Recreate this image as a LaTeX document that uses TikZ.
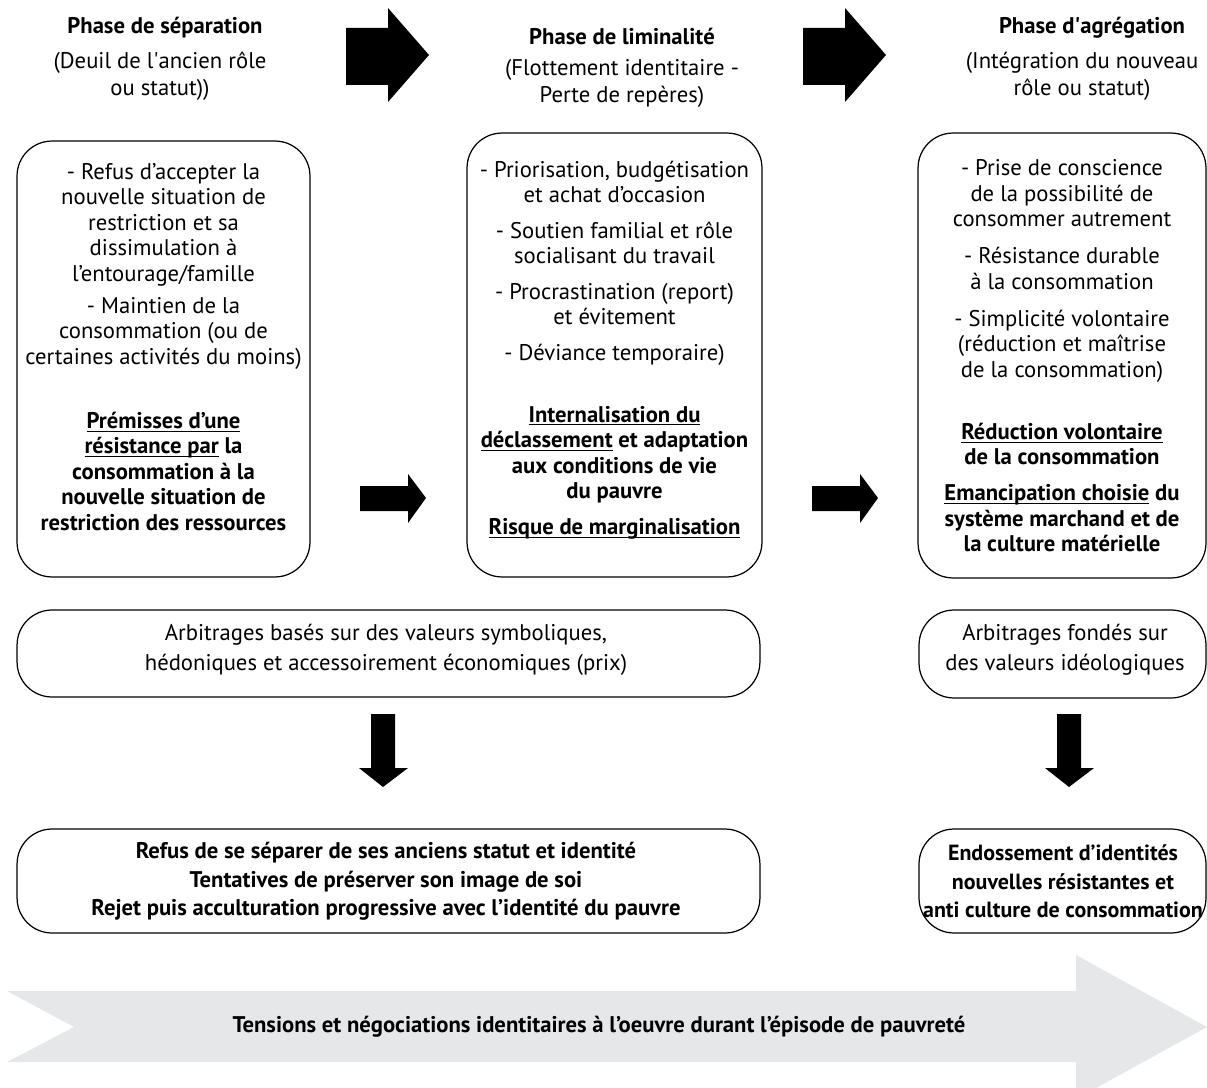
\documentclass[tikz,border=0pt]{standalone}
\usepackage{fontspec}
\setmainfont{PT Sans}
\definecolor{bandgray}{HTML}{E6E7E8}
\newcommand\souligne[1]{\underline{\smash{#1}}}
\begin{document}
\begin{tikzpicture}[x=0.02cm,y=-0.02cm,
  box/.style={draw, line width=0.7pt, rounded corners=0.7cm, inner sep=0pt},
  txt/.style={font=\fontsize{12.9}{14.5}\selectfont, align=center},
  phase/.style={font=\fontsize{12.9}{14}\selectfont\bfseries},
  sub/.style={font=\fontsize{12.9}{15.3}\selectfont, align=center}]
\useasboundingbox (0,0) rectangle (1207,1088);
\clip (0,0) rectangle (1207,1088);

% titres des phases
\node[phase] (sepT) at (165,28) {Phase de séparation};
\node[sub] (sepS) at (160,76.5) {(Deuil de l\textquotesingle ancien rôle\\ou statut))};
\node[phase] (limT) at (622,36) {Phase de liminalité};
\node[sub] (limS) at (622,83) {(Flottement identitaire -\\Perte de repères)};
\node[phase] (agrT) at (1092,28) {Phase d\textquotesingle agrégation};
\node[sub] (agrS) at (1082,76.5) {(Intégration du nouveau\\rôle ou statut)};

% grandes boites
\node[box, minimum width=5.86cm, minimum height=8.72cm] (sep) at (163.5,359) {};
\node[box, minimum width=5.90cm, minimum height=8.88cm] (lim) at (614.5,355) {};
\node[box, minimum width=5.76cm, minimum height=8.90cm] (agr) at (1062,355.5) {};

\node[txt] (sepX) at (163.5,347) {- Refus d’accepter la\\nouvelle situation de\\restriction et sa\\dissimulation à\\l’entourage/famille\\[3.7pt]
- Maintien de la\\consommation (ou de\\certaines activités du moins)\\[22pt]
\textbf{\souligne{Prémisses d’une}}\\\textbf{\souligne{résistance par} la}\\\textbf{consommation à la}\\\textbf{nouvelle situation de}\\\textbf{restriction des ressources}};

\node[txt] (limX) at (614.5,349.5) {- Priorisation, budgétisation\\et achat d’occasion\\[5.7pt]
- Soutien familial et rôle\\socialisant du travail\\[5.7pt]
- Procrastination (report)\\et évitement\\[5.7pt]
- Déviance temporaire)\\[20.7pt]
\textbf{\souligne{Internalisation du}}\\\textbf{\souligne{déclassement} et adaptation}\\\textbf{aux conditions de vie}\\\textbf{du pauvre}\\[6pt]
\textbf{\souligne{Risque de marginalisation}}};

\node[txt] (agrX) at (1062,356) {- Prise de conscience\\de la possibilité de\\consommer autrement\\[6.5pt]
- Résistance durable\\à la consommation\\[6.5pt]
- Simplicité volontaire\\(réduction et maîtrise\\de la consommation)\\[21pt]
\textbf{\souligne{Réduction volontaire}}\\\textbf{de la consommation}\\[6pt]
\textbf{\souligne{Emancipation choisie} du}\\\textbf{système marchand et de}\\\textbf{la culture matérielle}};

% arbitrages
\node[box, minimum width=14.86cm, minimum height=1.74cm] (arbA) at (388.5,653.5) {};
\node[box, minimum width=5.74cm, minimum height=1.76cm] (arbB) at (1062.5,654) {};
\node[txt, font=\fontsize{12.9}{17}\selectfont] (arbAX) at (386,650) {Arbitrages basés sur des valeurs symboliques,\\hédoniques et accessoirement économiques (prix)};
\node[txt, font=\fontsize{12.9}{17}\selectfont] (arbBX) at (1065,650) {Arbitrages fondés sur\\des valeurs idéologiques};

% identites
\node[box, minimum width=14.86cm, minimum height=2.08cm] (idA) at (388.5,881) {};
\node[box, minimum width=5.74cm, minimum height=2.08cm] (idB) at (1062.5,881) {};
\node[txt, font=\fontsize{12.9}{16.2}\selectfont\bfseries] (idAX) at (386,881.5) {Refus de se séparer de ses anciens statut et identité\\Tentatives de préserver son image de soi\\Rejet puis acculturation progressive avec l’identité du pauvre};
\node[txt, font=\fontsize{12.5}{16.2}\selectfont\bfseries] (idBX) at (1063,881.5) {Endossement d’identités\\nouvelles résistantes et\\anti culture de consommation};

% fleches noires
\fill (346,28) -- (388,28) -- (388,8) -- (429,55) -- (388,102) -- (388,85) -- (346,85) -- cycle;
\fill (803,28) -- (845,28) -- (845,8) -- (886,55) -- (845,102) -- (845,85) -- (803,85) -- cycle;
\fill (360,486) -- (408,486) -- (408,474) -- (426,498) -- (408,523) -- (408,511) -- (360,511) -- cycle;
\fill (812,486) -- (860,486) -- (860,474) -- (878,498) -- (860,523) -- (860,511) -- (812,511) -- cycle;
\fill (371,714) -- (395,714) -- (395,768) -- (408,768) -- (383,787) -- (359,768) -- (371,768) -- cycle;
\fill (1057,714) -- (1081,714) -- (1081,768) -- (1094,768) -- (1069,787) -- (1045,768) -- (1057,768) -- cycle;

% bandeau
\fill[bandgray] (7,991) -- (1076,991) -- (1076,955) -- (1207,1027) -- (1076,1099) -- (1076,1062) -- (7,1062) -- (74,1027) -- cycle;
\node[font=\fontsize{12.9}{14}\selectfont\bfseries] (band) at (599,1027) {Tensions et négociations identitaires à l’oeuvre durant l’épisode de pauvreté};
\end{tikzpicture}
\end{document}
